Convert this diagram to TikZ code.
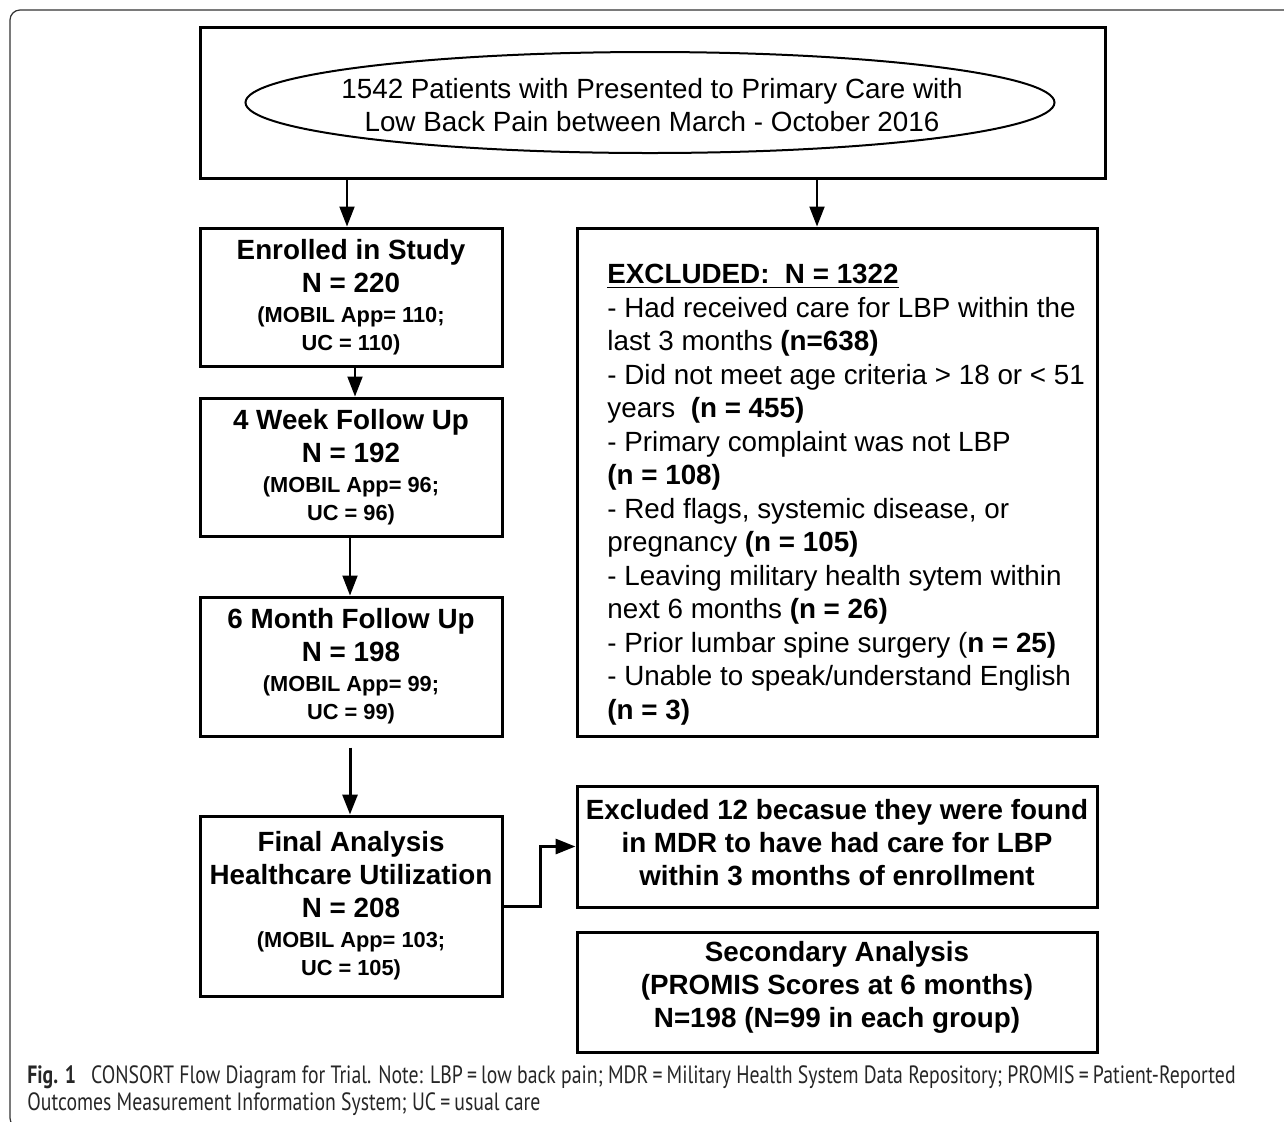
\documentclass[tikz,border=0pt]{standalone}
\usepackage{fontspec}
\setmainfont{Liberation Sans}
\newfontfamily\capfont[FakeStretch=0.79]{PT Sans}
\usepackage{tikz}
\usetikzlibrary{arrows.meta}
\tikzset{%
  flowbox/.style   = {shape=rectangle, draw, line width=1.5pt, align=center,%
                      inner sep=0pt, font=\bfseries\fontsize{13.9}{16.5}\selectfont},%
  listbox/.style   = {shape=rectangle, draw, line width=1.5pt},%
  listtext/.style  = {align=left, inner sep=0pt,%
                      font=\fontsize{13.9}{16.75}\selectfont},%
  starttext/.style = {align=center, inner sep=0pt, font=\fontsize{13.9}{16.5}\selectfont},%
  flowarrow/.style = {-{Triangle[length=10pt,width=7.5pt]}, line width=1pt}%
}
\newcommand{\subline}[1]{{\fontsize{10.9}{14}\selectfont #1}}

\begin{document}
\begin{tikzpicture}[x=0.5pt, y=-0.5pt]
	\useasboundingbox (0,0) rectangle (1284,1121);
	\draw[black!80, line width=0.6pt, rounded corners=5pt] (1300,10) -- (10,10) -- (10,1128) -- (40,1128);
	% top box
	\node[flowbox, minimum width=452.5pt, minimum height=75.5pt] (source) at (652.5,102.5) {};
	\node[starttext] (patients) at (652,105)
		{1542 Patients with Presented to Primary Care with\\Low Back Pain between March - October 2016};
	\draw[line width=1pt] (650,102.5) ellipse [x radius=202.25pt, y radius=25.25pt];
	% left column
	\node[flowbox, minimum width=151pt, minimum height=69pt] (enrolled) at (351,297)
		{Enrolled in Study\\N = 220\\[-1.5pt]\subline{(MOBIL App= 110;}\\[-2.5pt]\subline{UC = 110)}};
	\node[flowbox, minimum width=151pt, minimum height=69pt] (week4) at (351,467)
		{4 Week Follow Up\\N = 192\\[-1.5pt]\subline{(MOBIL App= 96;}\\[-2.5pt]\subline{UC = 96)}};
	\node[flowbox, minimum width=151pt, minimum height=69.5pt] (month6) at (351,666.5)
		{6 Month Follow Up\\N = 198\\[-1.5pt]\subline{(MOBIL App= 99;}\\[-2.5pt]\subline{UC = 99)}};
	\node[flowbox, minimum width=151pt, minimum height=90pt] (final) at (351,906)
		{Final Analysis\\Healthcare Utilization\\N = 208\\[-1.5pt]\subline{(MOBIL App= 103;}\\[-2.5pt]\subline{UC = 105)}};
	% right column
	\node[listbox, minimum width=260pt, minimum height=254pt] (excluded) at (837,482) {};
	\node[listtext, anchor=north west] (reasons) at (607,264)
		{\textbf{\underline{EXCLUDED:\ \ N = 1322}}\\
		 - Had received care for LBP within the\\
		 last 3 months \textbf{(n=638)}\\
		 - Did not meet age criteria > 18 or < 51\\
		 years\ \ \textbf{(n = 455)}\\
		 - Primary complaint was not LBP\\
		 \textbf{(n = 108)}\\
		 - Red flags, systemic disease, or\\
		 pregnancy \textbf{(n = 105)}\\
		 - Leaving military health sytem within\\
		 next 6 months \textbf{(n = 26)}\\
		 - Prior lumbar spine surgery (\textbf{n = 25)}\\
		 - Unable to speak/understand English\\
		 \textbf{(n = 3)}};
	\node[flowbox, minimum width=260pt, minimum height=60.5pt, text depth=4pt] (mdr) at (837,846.5)
		{Excluded 12 becasue they were found\\in MDR to have had care for LBP\\within 3 months of enrollment};
	\node[flowbox, minimum width=260pt, minimum height=60pt, text depth=7.5pt] (secondary) at (837,992)
		{Secondary Analysis\\(PROMIS Scores at 6 months)\\N=198 (N=99 in each group)};
	% connectors
	\draw[flowarrow] (source.south -| 347,0) -- (enrolled.north -| 347,0);
	\draw[flowarrow] (source.south -| 817,0) -- (excluded.north -| 817,0);
	\draw[flowarrow] (enrolled.south -| 355,0) -- (week4.north -| 355,0);
	\draw[flowarrow] (week4.south -| 350,0) -- (month6.north -| 350,0);
	\draw[flowarrow, line width=1.5pt, shorten <=5pt] (month6.south -| 350,0) -- (final.north -| 350,0);
	\draw[flowarrow, line width=1.5pt] (final.east) -- (final.east -| 540,0) |- (mdr.west);
	% caption
	\node[anchor=north west, align=left, inner sep=0pt, text=black!85,%
		font=\capfont\fontsize{12.5}{13.5}\selectfont] (caption) at (27,1065)
		{\textbf{Fig. 1}\hspace{0.6em}CONSORT Flow Diagram for Trial. Note: LBP\,=\,low back pain; MDR\,=\,Military Health System Data Repository; PROMIS\,=\,Patient-Reported\\
		 Outcomes Measurement Information System; UC\,=\,usual care};
\end{tikzpicture}
\end{document}
